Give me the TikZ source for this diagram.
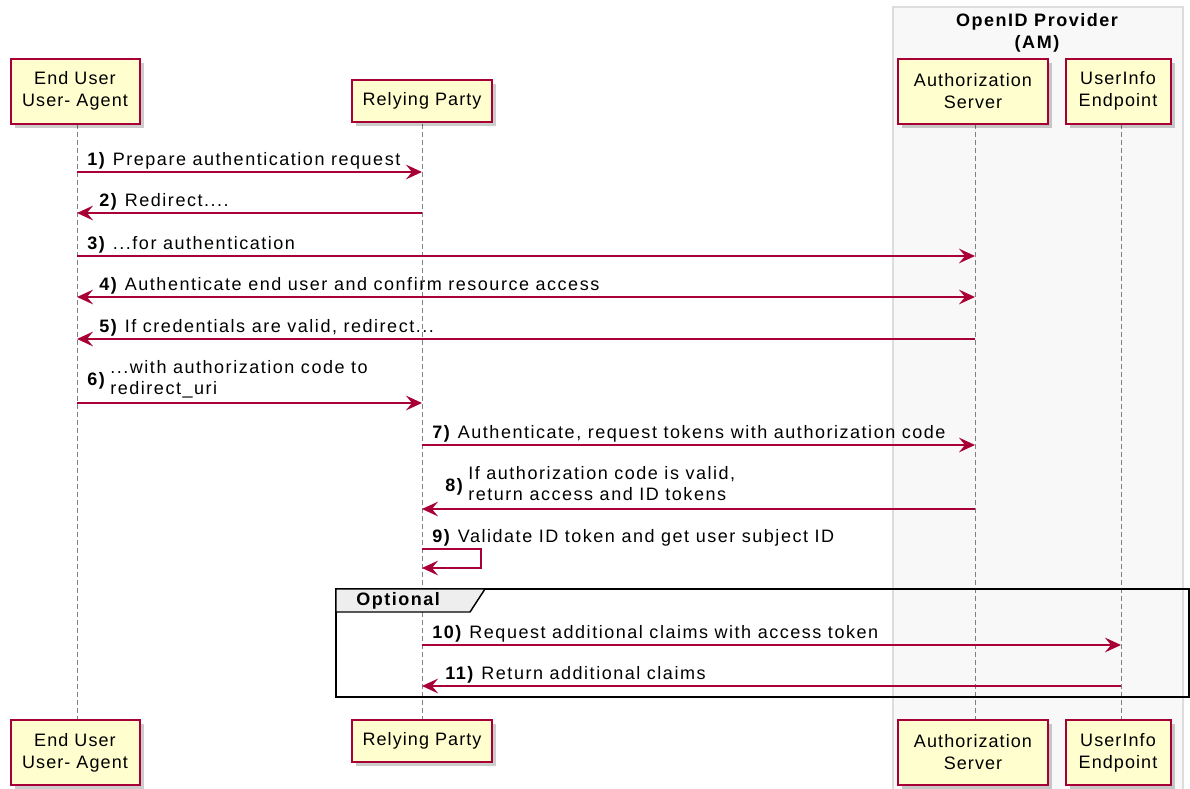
\documentclass[tikz,border=0pt]{standalone}
\usepackage{fontspec}
\setmainfont{Liberation Sans}[LetterSpace=8.5]
\newfontfamily\actorfont{Liberation Sans}[LetterSpace=6]
\usetikzlibrary{arrows.meta, positioning, calc, shadows}
\definecolor{umlred}{RGB}{168,0,54}
\definecolor{umlfill}{RGB}{254,254,206}
\definecolor{groupfill}{RGB}{248,248,248}
\definecolor{groupline}{RGB}{221,221,221}
\definecolor{tabfill}{RGB}{238,238,238}

\begin{document}
\begin{tikzpicture}[
    x=0.75pt, y=-0.75pt,
    font=\fontsize{13.5}{15.75}\selectfont,
    actor/.style={draw=umlred, line width=1.5pt, fill=umlfill, align=center, inner sep=0pt,
        font=\fontsize{13.5}{16.5}\actorfont,
        drop shadow={shadow xshift=3pt, shadow yshift=-3pt, fill=black, opacity=0.2}},
    tallactor/.style={actor, minimum height=48.75pt},
    flatactor/.style={actor, minimum height=31.5pt},
    lifeline/.style={draw=gray, line width=0.6pt, dash pattern=on 3.75pt off 2.25pt},
    msg/.style={-{Stealth[length=12pt, width=11pt, inset=4.5pt]}, umlred, line width=1.3pt},
    twoway/.style={{Stealth[length=12pt, width=11pt, inset=4.5pt]}-{Stealth[length=12pt, width=11pt, inset=4.5pt]}},
    msglabel/.style={anchor=base west, inner sep=0pt},
    frame/.style={draw=black, line width=1.5pt}
]
    \useasboundingbox (0,0) rectangle (1190,789);

    % provider group
    \draw[groupline, fill=groupfill, line width=0.8pt] (893,7) rectangle (1183,800);
    \node[align=center, font=\fontsize{13.5}{16.5}\selectfont\bfseries] (grp) at (1037,33) {OpenID Provider\\(AM)};

    % lifelines
    \foreach \name/\x in {eu/77, rp/422, as/975, ui/1121} {
        \coordinate (\name-top) at (\x,124);
        \coordinate (\name-bot) at (\x,720);
        \draw[lifeline] (\name-top) -- (\name-bot);
    }

    % participants, top and bottom
    \node[tallactor, minimum width=96.75pt] (eu) at (75,91) {End User\\User- Agent};
    \node[flatactor, minimum width=105pt] (rp) at (422,101) {Relying Party};
    \node[tallactor, minimum width=112.5pt] (as) at (973,91) {Authorization\\Server};
    \node[tallactor, minimum width=78.75pt] (ui) at (1118,91) {UserInfo\\Endpoint};

    \node[tallactor, minimum width=96.75pt] (eub) at (75,752.5) {End User\\User- Agent};
    \node[flatactor, minimum width=105pt] (rpb) at (422,741) {Relying Party};
    \node[tallactor, minimum width=112.5pt] (asb) at (973,752.5) {Authorization\\Server};
    \node[tallactor, minimum width=78.75pt] (uib) at (1118,752.5) {UserInfo\\Endpoint};

    % message rows
    \foreach \row/\y in {r1/172, r2/213, r3/256, r4/297, r5/339, r6/403, r7/445, r8/509, r9/549, r9b/568, r10/645, r11/686}
        \coordinate (\row) at (0,\y);

    \draw[msg] (eu-top |- r1) -- (rp-top |- r1);
    \node[msglabel] (t1) at ($(eu-top |- r1)+(10,-7)$) {\textbf{1)} Prepare authentication request};

    \draw[msg] (rp-top |- r2) -- (eu-top |- r2);
    \node[msglabel] (t2) at ($(eu-top |- r2)+(22,-7)$) {\textbf{2)} Redirect....};

    \draw[msg] (eu-top |- r3) -- (as-top |- r3);
    \node[msglabel] (t3) at ($(eu-top |- r3)+(10,-7)$) {\textbf{3)} ...for authentication};

    \draw[msg, twoway] (eu-top |- r4) -- (as-top |- r4);
    \node[msglabel] (t4) at ($(eu-top |- r4)+(22,-7)$) {\textbf{4)} Authenticate end user and confirm resource access};

    \draw[msg] (as-top |- r5) -- (eu-top |- r5);
    \node[msglabel] (t5) at ($(eu-top |- r5)+(22,-7)$) {\textbf{5)} If credentials are valid, redirect...};

    \draw[msg] (eu-top |- r6) -- (rp-top |- r6);
    \node[msglabel] (t6) at ($(eu-top |- r6)+(10,-18)$) {\textbf{6)}\hspace{3pt}\begin{tabular}{@{}l@{}}...with authorization code to\\redirect\_uri\end{tabular}};

    \draw[msg] (rp-top |- r7) -- (as-top |- r7);
    \node[msglabel] (t7) at ($(rp-top |- r7)+(10,-7)$) {\textbf{7)} Authenticate, request tokens with authorization code};

    \draw[msg] (as-top |- r8) -- (rp-top |- r8);
    \node[msglabel] (t8) at ($(rp-top |- r8)+(23,-18)$) {\textbf{8)}\hspace{3pt}\begin{tabular}{@{}l@{}}If authorization code is valid,\\return access and ID tokens\end{tabular}};

    \draw[msg] (rp-top |- r9) -- ++(59,0) |- (rp-top |- r9b);
    \node[msglabel] (t9) at ($(rp-top |- r9)+(10,-7)$) {\textbf{9)} Validate ID token and get user subject ID};

    % optional fragment
    \draw[frame] (336,589) rectangle (1189,697);
    \draw[frame, fill=tabfill, line width=1.1pt] (336,589) -- (485,589) -- (470,612) -- (336,612) -- cycle;
    \node[anchor=west, inner sep=0pt, font=\fontsize{13.5}{15.75}\selectfont\bfseries] (opt) at (356,601) {Optional};

    \draw[msg] (rp-top |- r10) -- (ui-top |- r10);
    \node[msglabel] (t10) at ($(rp-top |- r10)+(10,-7)$) {\textbf{10)} Request additional claims with access token};

    \draw[msg] (ui-top |- r11) -- (rp-top |- r11);
    \node[msglabel] (t11) at ($(rp-top |- r11)+(23,-7)$) {\textbf{11)} Return additional claims};
\end{tikzpicture}
\end{document}
